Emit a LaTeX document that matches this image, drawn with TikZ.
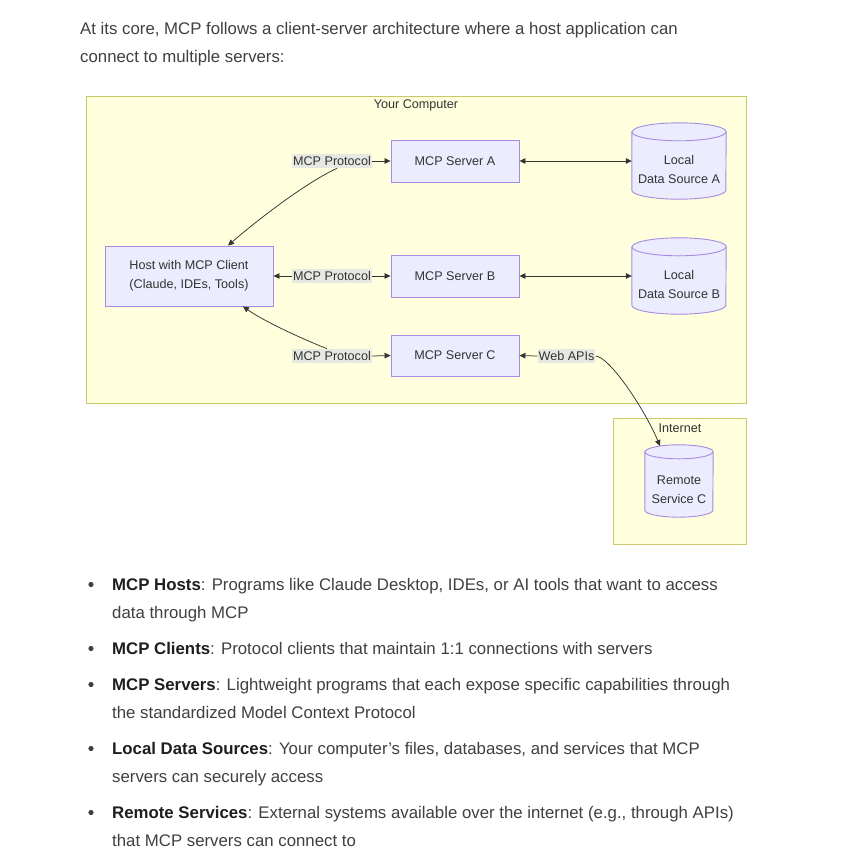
\documentclass[tikz,border=0pt]{standalone}
\usepackage{fontspec}
\setmainfont{Liberation Sans}
\usetikzlibrary{arrows.meta}
\definecolor{txt}{HTML}{333333}
\definecolor{clus}{HTML}{FFFFDE}
\definecolor{clusb}{HTML}{C8C86A}
\definecolor{nodef}{HTML}{ECECFF}
\definecolor{nodeb}{HTML}{A68BE0}
\definecolor{lblbg}{HTML}{E8E8E2}
\definecolor{bodytx}{HTML}{404040}
\definecolor{boldtx}{HTML}{1E1E1E}
\newcommand{\dfont}{\fontsize{12.6}{19}\selectfont}
\newcommand{\bfont}{\fontsize{16.8}{20}\selectfont}
\tikzset{
  box/.style={draw=nodeb, fill=nodef, line width=0.9pt, inner sep=0pt, text=txt, font=\dfont, align=center},
  cylnode/.style={inner sep=0pt, draw=none},
  cylline/.style={draw=nodeb, fill=nodef, line width=0.9pt},
  cyltext/.style={text=txt, font=\dfont, align=center, inner sep=0pt},
  cluster/.style={draw=clusb, fill=clus, line width=0.9pt, inner sep=0pt, anchor=north west},
  clbl/.style={text=txt, font=\dfont, inner sep=0pt},
  elbl/.style={fill=lblbg, text=txt, font=\dfont, inner xsep=1pt, inner ysep=2.5pt},
  link/.style={draw=txt, line width=0.75pt},
  tip/.tip={Triangle[length=6pt,width=5.5pt]},
  bodytext/.style={text=bodytx, font=\bfont, anchor=base west, inner sep=0pt},
}
\newcommand{\cylshape}[3]{% node, rx, ry
  \draw[cylline] ([yshift=-#3]#1.north west) -- ([yshift=#3]#1.south west)
    arc[start angle=180, end angle=360, x radius=#2, y radius=#3]
    -- ([yshift=-#3]#1.north east)
    arc[start angle=0, end angle=180, x radius=#2, y radius=#3] -- cycle;
  \draw[cylline, fill=none] ([yshift=-#3]#1.north west)
    arc[start angle=180, end angle=360, x radius=#2, y radius=#3];
}
\begin{document}
\begin{tikzpicture}[x=1pt,y=-1pt]
\path[use as bounding box, fill=white] (0,0) rectangle (859,855);

% intro
\node[bodytext] (intro1) at (80,34) {At its core, MCP follows a client-server architecture where a host application can};
\node[bodytext] (intro2) at (80,62) {connect to multiple servers:};

% clusters
\node[cluster, minimum width=660pt, minimum height=307pt] (yc) at (86,96) {};
\node[clbl] (yclbl) at (416,105) {Your Computer};
\node[cluster, minimum width=133pt, minimum height=126pt] (inet) at (613,418) {};
\node[clbl] (inetlbl) at (680,428) {Internet};

% nodes
\node[box, minimum width=168pt, minimum height=60pt] (host) at (189,276) {Host with MCP Client\\(Claude, IDEs, Tools)};
\node[box, minimum width=128pt, minimum height=42pt] (srvA) at (455,161) {MCP Server A};
\node[box, minimum width=128pt, minimum height=42pt] (srvB) at (455,276) {MCP Server B};
\node[box, minimum width=128pt, minimum height=41pt] (srvC) at (455,355.5) {MCP Server C};

\node[cylnode, minimum width=94pt, minimum height=76pt] (dsa) at (679,161) {};
\cylshape{dsa}{47pt}{9pt}
\node[cyltext] (dsatxt) at (679,169.5) {Local\\Data Source A};
\node[cylnode, minimum width=94pt, minimum height=76pt] (dsb) at (679,276) {};
\cylshape{dsb}{47pt}{9pt}
\node[cyltext] (dsbtxt) at (679,284.5) {Local\\Data Source B};
\node[cylnode, minimum width=68pt, minimum height=72pt] (rem) at (679,481) {};
\cylshape{rem}{34pt}{7pt}
\node[cyltext] (remtxt) at (679,490) {Remote\\Service C};

% edge labels
\node[elbl] (lblA) at (332,161) {MCP Protocol};
\node[elbl] (lblB) at (332,276) {MCP Protocol};
\node[elbl] (lblC) at (332,356) {MCP Protocol};
\node[elbl] (web) at (566.5,356) {Web APIs};

% connectors
\coordinate (hostTop) at ([xshift=39pt]host.north);
\coordinate (hostBot) at ([xshift=54pt]host.south);
\coordinate (remTop) at (660,446);
\draw[link,-{tip}] (lblA.east) -- (srvA.west);
\draw[link,-{tip}] ([xshift=5pt]lblA.south) .. controls (305,183) and (255,222) .. (hostTop);
\draw[link,-{tip}] (lblB.east) -- (srvB.west);
\draw[link,-{tip}] (lblB.west) -- (host.east);
\draw[link,-{tip}] (lblC.east) -- (srvC.west);
\draw[link,-{tip}] ([xshift=-5pt]lblC.north) .. controls (305,340) and (265,322) .. (hostBot);
\draw[link,{tip}-{tip}] (srvA.east) -- (dsa.west);
\draw[link,{tip}-{tip}] (srvB.east) -- (dsb.west);
\draw[link,-{tip}] (web.west) -- (srvC.east);
\draw[link,-{tip}] (web.east) .. controls (610,357) and (645,410) .. (remTop);

% bullet list
\foreach \yy in {590,654,690,754,818} { \fill[bodytx] (91,\yy-5.5) circle (2.6pt); }
\node[bodytext] (b1a) at (112,590) {\textcolor{boldtx}{\textbf{MCP Hosts}}: Programs like Claude Desktop, IDEs, or AI tools that want to access};
\node[bodytext] (b1b) at (112,618) {data through MCP};
\node[bodytext] (b2a) at (112,654) {\textcolor{boldtx}{\textbf{MCP Clients}}: Protocol clients that maintain 1:1 connections with servers};
\node[bodytext] (b3a) at (112,690) {\textcolor{boldtx}{\textbf{MCP Servers}}: Lightweight programs that each expose specific capabilities through};
\node[bodytext] (b3b) at (112,718) {the standardized Model Context Protocol};
\node[bodytext] (b4a) at (112,754) {\textcolor{boldtx}{\textbf{Local Data Sources}}: Your computer’s files, databases, and services that MCP};
\node[bodytext] (b4b) at (112,782) {servers can securely access};
\node[bodytext] (b5a) at (112,818) {\textcolor{boldtx}{\textbf{Remote Services}}: External systems available over the internet (e.g., through APIs)};
\node[bodytext] (b5b) at (112,846) {that MCP servers can connect to};
\end{tikzpicture}
\end{document}
